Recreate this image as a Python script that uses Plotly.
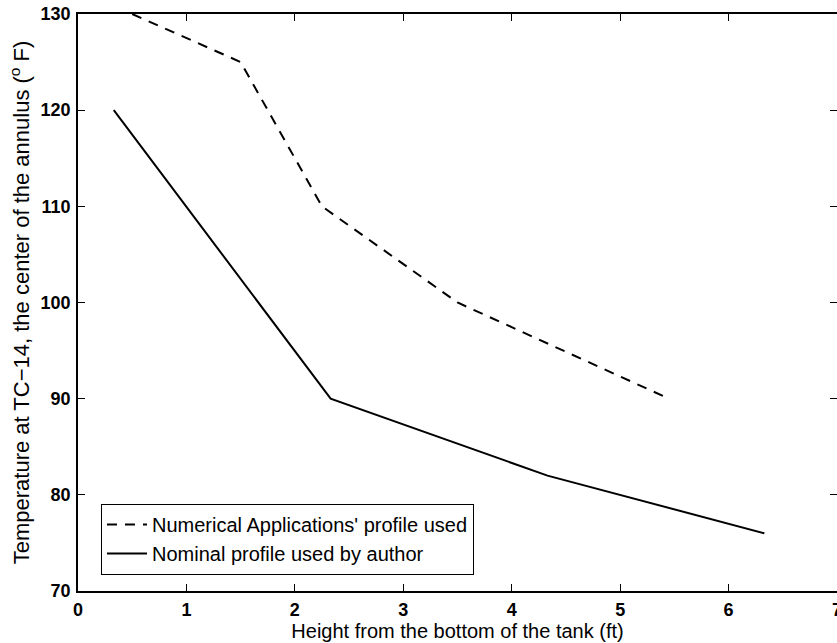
import plotly.graph_objects as go

# Numerical Applications' temperature profile (dashed)
num_height = [0.5, 1.5, 2.25, 3.5, 5.45]
num_temp = [130, 125, 110, 100, 90]

# Nominal profile used by the author (solid)
nom_height = [0.33, 2.33, 4.33, 6.33]
nom_temp = [120, 90, 82, 76]

x_ticks = [0, 1, 2, 3, 4, 5, 6, 7]
y_ticks = [70, 80, 90, 100, 110, 120, 130]

font_family = "Liberation Sans, Arial, Helvetica, sans-serif"

fig = go.Figure()
fig.add_trace(go.Scatter(
    x=num_height, y=num_temp, mode="lines",
    name="Numerical Applications' profile used",
    line=dict(color="black", width=2, dash="10px,8px"),
))
fig.add_trace(go.Scatter(
    x=nom_height, y=nom_temp, mode="lines",
    name="Nominal profile used by author",
    line=dict(color="black", width=2),
))

axis_common = dict(
    showline=True, linecolor="black", linewidth=1.5, mirror="ticks",
    ticks="inside", ticklen=7, tickwidth=1.2, tickcolor="black",
    showgrid=False, zeroline=False, automargin=False,
    ticklabeloverflow="allow",
    tickfont=dict(family=font_family, size=18, color="black", weight="bold"),
)

fig.update_layout(
    width=837, height=643,
    margin=dict(l=78, r=0, t=14, b=52),
    paper_bgcolor="white", plot_bgcolor="white",
    font=dict(family=font_family, color="black"),
    xaxis=dict(range=[0, 7], tickvals=x_ticks, ticklabelstandoff=2,
               title=dict(text="Height from the bottom of the tank (ft)", standoff=1,
                          font=dict(family=font_family, size=20, color="black")),
               **axis_common),
    yaxis=dict(range=[70, 130], tickvals=y_ticks, ticklabelstandoff=2,
               title=dict(text="Temperature at TC\u221214, the center of the annulus (<sup>o</sup> F)",
                          standoff=5,
                          font=dict(family=font_family, size=22, color="black")),
               **axis_common),
    legend=dict(x=0.03, y=0.028, xanchor="left", yanchor="bottom",
                bordercolor="black", borderwidth=1.2, bgcolor="white",
                font=dict(family=font_family, size=20, color="black"),
                tracegroupgap=0, itemwidth=40),
    showlegend=True,
)

fig.write_html("out.html")
